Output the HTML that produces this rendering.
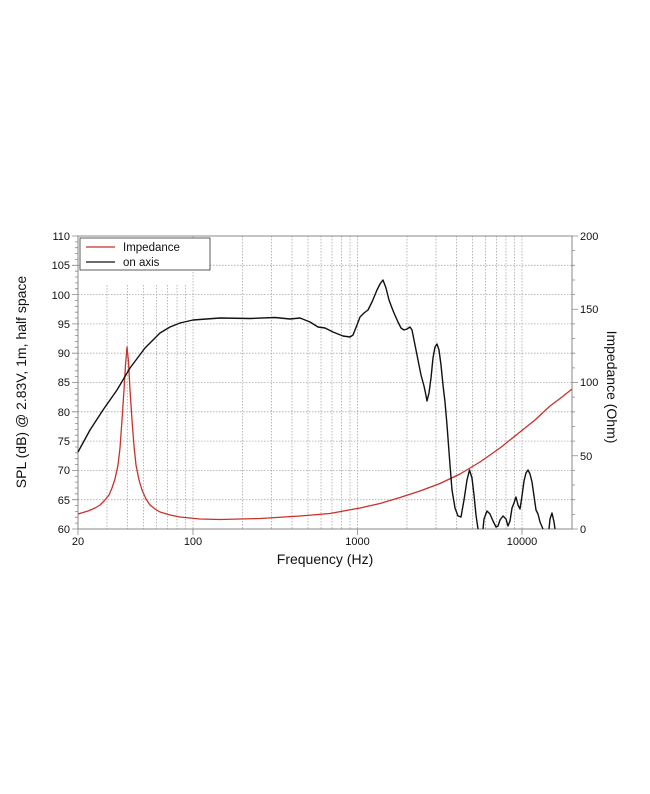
<!DOCTYPE html>
<html><head><meta charset="utf-8"><style>
html,body{margin:0;padding:0;background:#fff;width:650px;height:794px;overflow:hidden}
text{font-family:"Liberation Sans",Arial,sans-serif;fill:#111}
</style></head><body>
<svg width="650" height="794" viewBox="0 0 650 794" xmlns="http://www.w3.org/2000/svg">
<g stroke="#aaa" stroke-width="0.8" stroke-dasharray="1.5,1.5" fill="none">
<line x1="78" x2="572" y1="265.3" y2="265.3"/><line x1="78" x2="572" y1="294.6" y2="294.6"/>
<line x1="78" x2="572" y1="323.9" y2="323.9"/><line x1="78" x2="572" y1="353.2" y2="353.2"/>
<line x1="78" x2="572" y1="382.5" y2="382.5"/><line x1="78" x2="572" y1="411.8" y2="411.8"/>
<line x1="78" x2="572" y1="441.1" y2="441.1"/><line x1="78" x2="572" y1="470.4" y2="470.4"/>
<line x1="78" x2="572" y1="499.7" y2="499.7"/>
<line x1="107" x2="107" y1="285" y2="529"/><line x1="127.5" x2="127.5" y1="285" y2="529"/>
<line x1="143.5" x2="143.5" y1="285" y2="529"/><line x1="156.5" x2="156.5" y1="285" y2="529"/>
<line x1="167.5" x2="167.5" y1="285" y2="529"/><line x1="177" x2="177" y1="285" y2="529"/>
<line x1="185.5" x2="185.5" y1="285" y2="529"/><line x1="193" x2="193" y1="236" y2="529"/>
<line x1="242.5" x2="242.5" y1="236" y2="529"/><line x1="271.5" x2="271.5" y1="236" y2="529"/>
<line x1="292" x2="292" y1="236" y2="529"/><line x1="308" x2="308" y1="236" y2="529"/>
<line x1="321" x2="321" y1="236" y2="529"/><line x1="332" x2="332" y1="236" y2="529"/>
<line x1="341.5" x2="341.5" y1="236" y2="529"/><line x1="350" x2="350" y1="236" y2="529"/>
<line x1="357.5" x2="357.5" y1="236" y2="529"/><line x1="407" x2="407" y1="236" y2="529"/>
<line x1="436" x2="436" y1="236" y2="529"/><line x1="456.5" x2="456.5" y1="236" y2="529"/>
<line x1="472.5" x2="472.5" y1="236" y2="529"/><line x1="485.5" x2="485.5" y1="236" y2="529"/>
<line x1="496.5" x2="496.5" y1="236" y2="529"/><line x1="506" x2="506" y1="236" y2="529"/>
<line x1="514.5" x2="514.5" y1="236" y2="529"/><line x1="522" x2="522" y1="236" y2="529"/>
</g>
<g stroke="#888" stroke-width="1" fill="none">
<rect x="78" y="236" width="494" height="293"/>
</g>
<g stroke="#888" stroke-width="0.8">
<path d="M72 236H78M72 265.3H78M72 294.6H78M72 323.9H78M72 353.2H78M72 382.5H78M72 411.8H78M72 441.1H78M72 470.4H78M72 499.7H78M72 529H78"/>
<path d="M75 241.9H78M75 247.7H78M75 253.6H78M75 259.4H78M75 271.2H78M75 277H78M75 282.9H78M75 288.7H78M75 300.5H78M75 306.3H78M75 312.2H78M75 318H78M75 329.8H78M75 335.6H78M75 341.5H78M75 347.3H78M75 359.1H78M75 364.9H78M75 370.8H78M75 376.6H78M75 388.4H78M75 394.2H78M75 400.1H78M75 405.9H78M75 417.7H78M75 423.5H78M75 429.4H78M75 435.2H78M75 447H78M75 452.8H78M75 458.7H78M75 464.5H78M75 476.3H78M75 482.1H78M75 488H78M75 493.8H78M75 505.6H78M75 511.4H78M75 517.3H78M75 523.1H78"/>
<path d="M572 236H578M572 309.25H578M572 382.5H578M572 455.75H578M572 529H578"/>
<path d="M572 250.6H575M572 265.3H575M572 280H575M572 294.6H575M572 323.9H575M572 338.5H575M572 353.2H575M572 367.9H575M572 397.1H575M572 411.8H575M572 426.5H575M572 441.1H575M572 470.4H575M572 485H575M572 499.7H575M572 514.4H575"/>
<path d="M78 529V535M193 529V535M357.5 529V535M522 529V535"/>
</g>
<g font-size="11" text-anchor="end">
<text x="70" y="240">110</text><text x="70" y="269">105</text><text x="70" y="299">100</text>
<text x="70" y="328">95</text><text x="70" y="357">90</text><text x="70" y="386">85</text>
<text x="70" y="416">80</text><text x="70" y="445">75</text><text x="70" y="474">70</text>
<text x="70" y="504">65</text><text x="70" y="533">60</text>
</g>
<g font-size="11" text-anchor="start">
<text x="580" y="240">200</text><text x="580" y="313">150</text><text x="580" y="386">100</text>
<text x="580" y="460">50</text><text x="580" y="533">0</text>
</g>
<g font-size="11" text-anchor="middle">
<text x="78" y="545">20</text><text x="193" y="545">100</text><text x="357.5" y="545">1000</text><text x="522" y="545">10000</text>
</g>
<text x="325" y="564" font-size="14" text-anchor="middle">Frequency (Hz)</text>
<text transform="translate(26,382) rotate(-90)" font-size="14" text-anchor="middle">SPL (dB) @ 2.83V, 1m, half space</text>
<text transform="translate(607,387) rotate(90)" font-size="14" text-anchor="middle">Impedance (Ohm)</text>
<path fill="none" stroke="#c8322a" stroke-width="1.3" stroke-linejoin="round" d="M78 514 L88 511 L95 508 L100 505 L105 500 L109 495 L112 488 L115 479 L118 465 L120 448 L122 420 L124 390 L125.5 365 L127 347 L128.5 362 L130 390 L132 420 L134 446 L136 465 L139 480 L142 490 L146 499 L150 505 L155 509 L160 512 L170 515 L180 517 L200 519 L220 519.5 L260 518.5 L300 516 L330 513.5 L360 508 L380 503.5 L400 497.5 L420 491 L440 483.5 L460 474 L480 462 L500 448 L520 432 L535 420 L550 406 L562 397 L572 389"/>
<path fill="none" stroke="#111" stroke-width="1.4" stroke-linejoin="round" d="M78 452 L90 430 L103 410 L117 390 L130 368 L145 348 L160 333 L170 327 L180 323 L193 320 L220 318 L250 318.5 L275 317.5 L290 319 L300 318 L310 322 L318 327 L325 328 L333 332 L343 336 L350 337 L353 335 L357 325 L360 317 L364 313 L368 310 L372 302 L377 290 L380 284 L383 280 L386 288 L389 300 L392 308 L394 313 L398 322 L401 328 L404 330 L407 329 L410 327 L412 330 L414 340 L417 355 L419 365 L421 375 L424 386 L425.5 393 L427 401 L429 393 L431 378 L433 358 L435 347 L437 344 L439 350 L441 365 L443 385 L445 402 L447 425 L450 465 L452 490 L455 508 L458 516 L461 517 L464 500 L467 480 L469.5 470 L472 478 L474 495 L476 515 L478 529 M483 529 L484 519 L487 511 L490 514 L493 521 L496 527 L498 526 L500 520 L503 516 L506 519 L508 526 L510 521 L512 508 L514 503 L516 497 L518 505 L520 509 L522 496 L524 481 L526 473 L528 470 L530 474 L532 482 L534 496 L536 510 L538 514 L540 522 L543 529 M549 529 L550 519 L552 513 L554 522 L555 529"/>
<rect x="80" y="238" width="130" height="32" fill="#fff" stroke="#333" stroke-width="0.8"/>
<line x1="86" x2="115" y1="247" y2="247" stroke="#c8322a" stroke-width="1.3"/>
<line x1="86" x2="115" y1="262" y2="262" stroke="#111" stroke-width="1.3"/>
<text x="123" y="251" font-size="11.5">Impedance</text>
<text x="123" y="266" font-size="11.5">on axis</text>
</svg>
</body></html>
